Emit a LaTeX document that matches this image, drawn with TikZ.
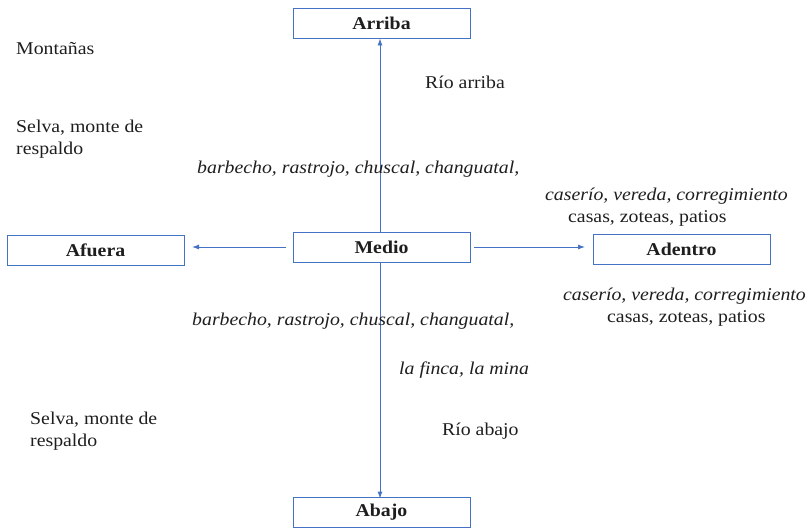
\documentclass[tikz,border=0pt]{standalone}
\usepackage{fontspec}
\setmainfont{Liberation Serif}[FakeStretch=1.1]
\usetikzlibrary{arrows.meta}
\definecolor{lineblue}{RGB}{68,114,196}
\definecolor{txt}{RGB}{30,30,30}
\begin{document}
\begin{tikzpicture}[x=1pt,y=-1pt,
  box/.style={draw=lineblue,line width=0.9pt,fill=white,minimum width=177pt,minimum height=30pt,inner sep=0pt,font=\fontsize{18}{22}\selectfont\bfseries,text=txt},
  conn/.style={draw=lineblue,line width=0.9pt,-{Latex[length=7pt,width=5pt]}},
  lbl/.style={font=\fontsize{18}{22}\selectfont,text=txt,inner sep=0pt,align=left},
  ilbl/.style={lbl,font=\fontsize{18}{22}\selectfont\itshape}]
\useasboundingbox (0,0) rectangle (809,528);
\node[box] (arriba) at (381.5,23) {Arriba};
\node[box] (medio) at (381.5,247) {Medio};
\node[box] (afuera) at (95.5,250) {Afuera};
\node[box] (adentro) at (681.5,249) {Adentro};
\node[box] (abajo) at (381.5,512) {Abajo};
\coordinate (lft) at (192,247);
\coordinate (rgt) at (585,247);
\draw[conn] ([xshift=-7pt]medio.west) -- (lft);
\draw[conn] ([xshift=4pt]medio.east) -- (rgt);
\draw[conn] (medio.north -| 380,0) -- (arriba.south -| 380,0);
\draw[conn] (medio.south -| 380,0) -- ([yshift=-2pt]abajo.north -| 380,0);
\node[lbl,anchor=base west] (mont) at (16,54) {Montañas};
\node[lbl,anchor=base west] (selva1a) at (16,132) {Selva, monte de};
\node[lbl,anchor=base west] (selva1b) at (16,154) {respaldo};
\node[lbl,anchor=base west] (rarriba) at (425,88) {Río arriba};
\node[ilbl,anchor=base west] (barb1) at (197,173) {barbecho, rastrojo, chuscal, changuatal,};
\node[ilbl,anchor=base west] (cas1a) at (545,200) {caserío, vereda, corregimiento};
\node[lbl,anchor=base west] (cas1b) at (568,222) {casas, zoteas, patios};
\node[ilbl,anchor=base west] (cas2a) at (563,300) {caserío, vereda, corregimiento};
\node[lbl,anchor=base west] (cas2b) at (607,322) {casas, zoteas, patios};
\node[ilbl,anchor=base west] (barb2) at (192,325) {barbecho, rastrojo, chuscal, changuatal,};
\node[ilbl,anchor=base west] (finca) at (399,374) {la finca, la mina};
\node[lbl,anchor=base west] (selva2a) at (30,424) {Selva, monte de};
\node[lbl,anchor=base west] (selva2b) at (30,446) {respaldo};
\node[lbl,anchor=base west] (rabajo) at (442,435) {Río abajo};
\end{tikzpicture}
\end{document}
